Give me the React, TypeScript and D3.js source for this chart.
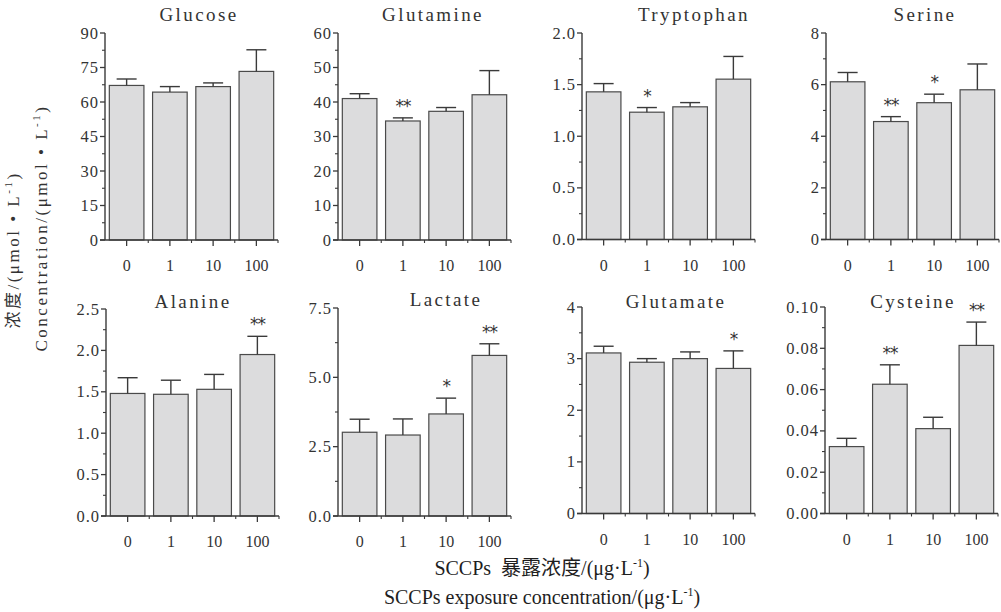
import React from 'react';
import * as d3 from 'd3';

// ---------- data ----------
const categories = ['0', '1', '10', '100'];

const glucoseMean = [67.2, 64.3, 66.7, 73.3];
const glucoseErr = [2.8, 2.4, 1.6, 9.4];
const glucoseSig = ['', '', '', ''];

const glutamineMean = [41.0, 34.5, 37.3, 42.1];
const glutamineErr = [1.4, 0.9, 1.1, 7.0];
const glutamineSig = ['', '**', '', ''];

const tryptophanMean = [1.43, 1.233, 1.285, 1.553];
const tryptophanErr = [0.08, 0.045, 0.041, 0.22];
const tryptophanSig = ['', '*', '', ''];

const serineMean = [6.11, 4.57, 5.3, 5.8];
const serineErr = [0.36, 0.19, 0.33, 1.0];
const serineSig = ['', '**', '*', ''];

const alanineMean = [1.48, 1.47, 1.53, 1.95];
const alanineErr = [0.19, 0.17, 0.18, 0.22];
const alanineSig = ['', '', '', '**'];

const lactateMean = [3.02, 2.92, 3.68, 5.79];
const lactateErr = [0.47, 0.58, 0.57, 0.42];
const lactateSig = ['', '', '*', '**'];

const glutamateMean = [3.11, 2.93, 3.0, 2.81];
const glutamateErr = [0.13, 0.07, 0.13, 0.34];
const glutamateSig = ['', '', '', '*'];

const cysteineMean = [0.0324, 0.0626, 0.0411, 0.0814];
const cysteineErr = [0.004, 0.0094, 0.0055, 0.0113];
const cysteineSig = ['', '**', '', '**'];

const panelNames = ['Glucose', 'Glutamine', 'Tryptophan', 'Serine', 'Alanine', 'Lactate', 'Glutamate', 'Cysteine'];
const yMax = [90, 60, 2.0, 8, 2.5, 7.5, 4, 0.1];
const yStep = [15, 10, 0.5, 2, 0.5, 2.5, 1, 0.02];
const yDecimals = [0, 0, 1, 0, 1, 1, 0, 2];

const means = [glucoseMean, glutamineMean, tryptophanMean, serineMean, alanineMean, lactateMean, glutamateMean, cysteineMean];
const errs = [glucoseErr, glutamineErr, tryptophanErr, serineErr, alanineErr, lactateErr, glutamateErr, cysteineErr];
const sigs = [glucoseSig, glutamineSig, tryptophanSig, serineSig, alanineSig, lactateSig, glutamateSig, cysteineSig];

// ---------- layout ----------
const PW = 173;
const layout = [
  { x: 105, top: 33, bottom: 240, tx: 198, ty: 21 },
  { x: 338, top: 33, bottom: 240, tx: 432, ty: 21 },
  { x: 582, top: 33, bottom: 239.5, tx: 693, ty: 21 },
  { x: 826, top: 33, bottom: 239.5, tx: 924, ty: 21 },
  { x: 106, top: 309, bottom: 516, tx: 192, ty: 308 },
  { x: 338, top: 308, bottom: 516, tx: 445, ty: 306 },
  { x: 582, top: 307, bottom: 513.5, tx: 675, ty: 308 },
  { x: 825, top: 307, bottom: 513.5, tx: 912, ty: 308 },
];

const AXIS = '#3a3a3a';
const TEXT = '#333333';
const SERIF = "'Liberation Serif', 'Noto Sans CJK SC', serif";

function Panel({ i }: { i: number }) {
  const L = layout[i];
  const x = d3.scaleBand<string>().domain(categories).range([L.x, L.x + PW]).paddingInner(0.2).paddingOuter(0.1);
  const y = d3.scaleLinear().domain([0, yMax[i]]).range([L.bottom, L.top]);
  const step = x.step();
  const bw = x.bandwidth();
  const fmt = d3.format(`.${yDecimals[i]}f`);
  const n = Math.round(yMax[i] / yStep[i]);
  const major = d3.range(0, n + 1).map((k) => k * yStep[i]);
  const minor = d3.range(0, n).map((k) => (k + 0.5) * yStep[i]);
  const bounds = d3.range(1, categories.length + 1).map((k) => L.x + k * step);
  const capW = 20;
  return (
    <g>
      <text x={L.tx + 1} y={L.ty} textAnchor="middle" fontFamily={SERIF} fontSize={19} letterSpacing={2.4} fill={TEXT}>
        {panelNames[i]}
      </text>
      {categories.map((c, k) => {
        const cx = (x(c) as number) + bw / 2;
        const v = means[i][k];
        const e = errs[i][k];
        return (
          <g key={c}>
            <rect x={x(c)} y={y(v)} width={bw} height={L.bottom - y(v)} fill="#dcdcdd" stroke="#4a4a4a" strokeWidth={1.2} />
            <line x1={cx} x2={cx} y1={y(v)} y2={y(v + e)} stroke={AXIS} strokeWidth={1.4} />
            <line x1={cx - capW / 2} x2={cx + capW / 2} y1={y(v + e)} y2={y(v + e)} stroke={AXIS} strokeWidth={1.4} />
            {sigs[i][k] && (
              <text x={cx} y={y(v + e) - 6} textAnchor="middle" fontFamily="'DejaVu Sans', sans-serif" fontSize={17} fill={TEXT} letterSpacing={-1}>
                {sigs[i][k]}
              </text>
            )}
          </g>
        );
      })}
      {/* y axis */}
      <line x1={L.x} x2={L.x} y1={L.top} y2={L.bottom} stroke={AXIS} strokeWidth={1.4} />
      {major.map((t) => (
        <g key={'M' + t}>
          <line x1={L.x - 5} x2={L.x} y1={y(t)} y2={y(t)} stroke={AXIS} strokeWidth={1.3} />
          <text x={L.x - 6} y={y(t) + 5.5} textAnchor="end" fontFamily={SERIF} fontSize={16.5} letterSpacing={1} fill={TEXT}>
            {fmt(t)}
          </text>
        </g>
      ))}
      {minor.map((t) => (
        <line key={'m' + t} x1={L.x - 3} x2={L.x} y1={y(t)} y2={y(t)} stroke={AXIS} strokeWidth={1.1} />
      ))}
      {/* x axis */}
      <line x1={L.x - 5} x2={L.x + PW} y1={L.bottom} y2={L.bottom} stroke={AXIS} strokeWidth={1.4} />
      {categories.map((c) => {
        const cx = (x(c) as number) + bw / 2;
        return (
          <g key={'x' + c}>
            <line x1={cx} x2={cx} y1={L.bottom} y2={L.bottom + 6} stroke={AXIS} strokeWidth={1.3} />
            <text x={cx} y={L.bottom + 31} textAnchor="middle" fontFamily={SERIF} fontSize={16} fill={TEXT}>
              {c}
            </text>
          </g>
        );
      })}
      {bounds.map((b) => (
        <line key={'b' + b} x1={b} x2={b} y1={L.bottom} y2={L.bottom + 3} stroke={AXIS} strokeWidth={1.1} />
      ))}
    </g>
  );
}

export default function App() {
  return (
    <svg width={1001} height={612} style={{ position: 'absolute', left: 0, top: 0, background: '#fff' }}>
      <rect x={0} y={0} width={1001} height={612} fill="#fff" />
      {panelNames.map((_, i) => (
        <Panel key={i} i={i} />
      ))}
      {/* y-axis titles */}
      <text transform="translate(19,250) rotate(-90)" textAnchor="middle" fontFamily={SERIF} fontSize={17} letterSpacing={2.5} fill={TEXT}>
        浓度/(μmol • L<tspan fontSize={11} dy={-7}>-1</tspan><tspan dy={7}>)</tspan>
      </text>
      <text transform="translate(47,228) rotate(-90)" textAnchor="middle" fontFamily={SERIF} fontSize={17} letterSpacing={2.5} fill={TEXT}>
        Concentration/(μmol • L<tspan fontSize={11} dy={-7}>-1</tspan><tspan dy={7}>)</tspan>
      </text>
      {/* x-axis titles */}
      <text x={542} y={575} textAnchor="middle" fontFamily={SERIF} fontSize={20} fill="#1e1e1e">
        {'SCCPs\u00A0 暴露浓度/(μg·L'}<tspan fontSize={12} dy={-8}>-1</tspan><tspan dy={8}>)</tspan>
      </text>
      <text x={542} y={604} textAnchor="middle" fontFamily={SERIF} fontSize={20} fill="#1e1e1e">
        SCCPs exposure concentration/(μg·L<tspan fontSize={12} dy={-8}>-1</tspan><tspan dy={8}>)</tspan>
      </text>
    </svg>
  );
}
